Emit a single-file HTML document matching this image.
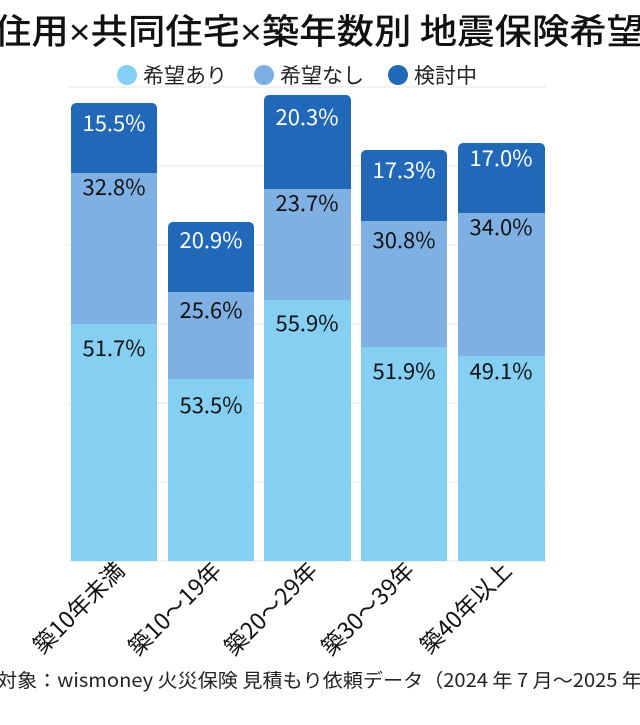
<!DOCTYPE html>
<html><head><meta charset="utf-8"><style>
body{margin:0;background:#fff;width:640px;height:720px;overflow:hidden;font-family:"Liberation Sans","Noto Sans CJK JP",sans-serif}
</style></head><body>
<svg width="640" height="720" xmlns="http://www.w3.org/2000/svg" font-family="Liberation Sans, Noto Sans CJK JP, sans-serif">
<text x="-6" y="44" font-size="35" font-weight="500" fill="#111" font-family="Noto Sans CJK JP, sans-serif" textLength="650" lengthAdjust="spacingAndGlyphs">住用<tspan font-family="Liberation Sans">×</tspan>共同住宅<tspan font-family="Liberation Sans">×</tspan>築年数別 地震保険希望</text>
<g font-size="21" fill="#222" font-family="Noto Sans CJK JP, sans-serif">
<circle cx="127" cy="75" r="10" fill="#84cff2"/><text x="143" y="83">希望あり</text>
<circle cx="264" cy="75" r="10" fill="#7fb0e3"/><text x="280" y="83">希望なし</text>
<circle cx="398" cy="75" r="10" fill="#2168b8"/><text x="414" y="83">検討中</text>
</g>
<g stroke="#e6e6e6" stroke-width="1">
<line x1="68" y1="87" x2="546" y2="87"/><line x1="68" y1="166" x2="546" y2="166"/><line x1="68" y1="245" x2="546" y2="245"/><line x1="68" y1="324" x2="546" y2="324"/><line x1="68" y1="403" x2="546" y2="403"/><line x1="68" y1="482" x2="546" y2="482"/><line x1="68" y1="561" x2="546" y2="561"/>
</g>
<g font-size="22" text-anchor="middle" font-family="Noto Sans CJK JP, sans-serif">
<rect x="71" y="103" width="86" height="80" rx="5" fill="#2168b8"/>
<rect x="71" y="173" width="86" height="151" fill="#7fb0e3"/>
<rect x="71" y="324" width="86" height="237" fill="#84cff2"/>
<text x="114" y="131" fill="#fff">15.5%</text><text x="114" y="195" fill="#111">32.8%</text><text x="114" y="356" fill="#111">51.7%</text>
<rect x="168" y="222" width="86" height="80" rx="5" fill="#2168b8"/>
<rect x="168" y="292" width="86" height="87" fill="#7fb0e3"/>
<rect x="168" y="379" width="86" height="182" fill="#84cff2"/>
<text x="211" y="248" fill="#fff">20.9%</text><text x="211" y="318" fill="#111">25.6%</text><text x="211" y="413" fill="#111">53.5%</text>
<rect x="264" y="95" width="87" height="100" rx="5" fill="#2168b8"/>
<rect x="264" y="189" width="87" height="111" fill="#7fb0e3"/>
<rect x="264" y="300" width="87" height="261" fill="#84cff2"/>
<text x="307" y="125" fill="#fff">20.3%</text><text x="307" y="211" fill="#111">23.7%</text><text x="307" y="331" fill="#111">55.9%</text>
<rect x="361" y="150" width="86" height="80" rx="5" fill="#2168b8"/>
<rect x="361" y="221" width="86" height="126" fill="#7fb0e3"/>
<rect x="361" y="347" width="86" height="214" fill="#84cff2"/>
<text x="404" y="178" fill="#fff">17.3%</text><text x="404" y="248" fill="#111">30.8%</text><text x="404" y="379" fill="#111">51.9%</text>
<rect x="458" y="143" width="87" height="80" rx="5" fill="#2168b8"/>
<rect x="458" y="213" width="87" height="143" fill="#7fb0e3"/>
<rect x="458" y="356" width="87" height="205" fill="#84cff2"/>
<text x="501" y="166" fill="#fff">17.0%</text><text x="501" y="235" fill="#111">34.0%</text><text x="501" y="379" fill="#111">49.1%</text>
</g>
<g font-size="23" fill="#111" text-anchor="end" font-family="Noto Sans CJK JP, sans-serif">
<text transform="translate(126,572) rotate(-45)">築10年未満</text>
<text transform="translate(223,572) rotate(-45)">築10〜19年</text>
<text transform="translate(319,572) rotate(-45)">築20〜29年</text>
<text transform="translate(416,572) rotate(-45)">築30〜39年</text>
<text transform="translate(513,572) rotate(-45)">築40年以上</text>
</g>
<text x="-3" y="687" font-size="19" fill="#222" font-family="Noto Sans CJK JP, sans-serif" textLength="645" lengthAdjust="spacingAndGlyphs">対象：wismoney 火災保険 見積もり依頼データ（2024 年 7 月〜2025 年</text>
</svg>
</body></html>
